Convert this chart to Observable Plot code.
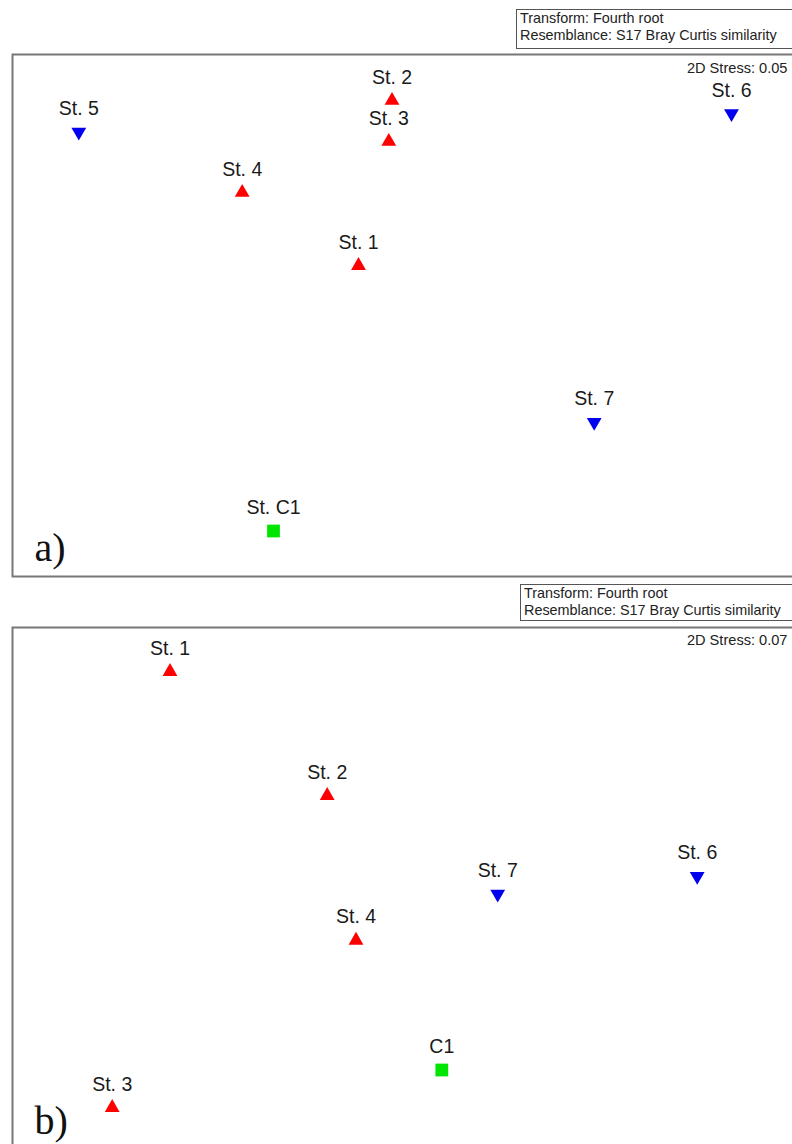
<!DOCTYPE html>
<html>
<head>
<meta charset="utf-8">
<script src="https://cdn.jsdelivr.net/npm/d3@7"></script>
<script src="https://cdn.jsdelivr.net/npm/@observablehq/plot@0.6"></script>
<style>
  html, body { margin: 0; padding: 0; background: #fff; overflow: hidden; }
  #page { position: relative; width: 800px; height: 1144px; overflow: hidden; }
  .panel { position: absolute; left: 0; }
  .legend {
    position: absolute; box-sizing: border-box; border: 1px solid #555;
    font-family: Arial, "Liberation Sans", sans-serif; font-size: 14.4px; line-height: 17px;
    color: #222; padding: 0 0 0 3px; white-space: nowrap; background: #fff; width: 300px;
  }
</style>
</head>
<body>
<div id="page"></div>
<script>
// ---- Panel a) nMDS ordination (arbitrary MDS units) ----
const namesA  = ["St. 1", "St. 2", "St. 3", "St. 4", "St. 5", "St. 6", "St. 7", "St. C1"];
const groupsA = ["up", "up", "up", "up", "down", "down", "down", "ctrl"];
const xA      = [3.46, 3.795, 3.763, 2.297, 0.663, 7.19, 5.817, 2.61];
const yA      = [3.109, 4.76, 4.35, 3.84, 4.445, 4.63, 1.542, 0.455];
const stressA = "2D Stress: 0.05";
const tagA    = "a)";

// ---- Panel b) ----
const namesB  = ["St. 1", "St. 2", "St. 3", "St. 4", "St. 6", "St. 7", "C1"];
const groupsB = ["up", "up", "up", "up", "down", "down", "ctrl"];
const xB      = [1.575, 3.147, 0.997, 3.435, 6.847, 4.852, 4.293];
const yB      = [4.849, 3.609, 0.489, 2.161, 2.803, 2.625, 0.865];
const stressB = "2D Stress: 0.07";
const tagB    = "b)";

const legendLines = ["Transform: Fourth root", "Resemblance: S17 Bray Curtis similarity"];

const groupColors = {up: "#ff0000", down: "#0000ee", ctrl: "#00e600"};

const sqrt3 = Math.sqrt(3);
const triangleDown = {
  draw(context, size) {
    const y = -Math.sqrt(size / (sqrt3 * 3));
    context.moveTo(0, -y * 2);
    context.lineTo(-sqrt3 * y, y);
    context.lineTo(sqrt3 * y, y);
    context.closePath();
  }
};

const sans = 'Arial, "Liberation Sans", sans-serif';
const serif = '"Times New Roman", "Liberation Serif", serif';

function panel(names, groups, xs, ys, stress, tag, opts) {
  const data = names.map((n, i) => ({name: n, group: groups[i], x: xs[i], y: ys[i]}));
  return Plot.plot({
    width: 800,
    height: 580,
    marginTop: opts.marginTop,
    marginLeft: 12,
    marginRight: 4,
    marginBottom: 4,
    x: {domain: [0, 7.84], axis: null},
    y: {domain: [0, opts.yMax], axis: null},
    style: {background: "transparent", maxWidth: "none", fontFamily: sans, overflow: "visible"},
    marks: [
      Plot.frame({stroke: "#777", strokeWidth: 2}),
      Plot.dot(data, {filter: d => d.group === "up", x: "x", y: "y", symbol: "triangle", r: 5.5, fill: groupColors.up, stroke: "none"}),
      Plot.dot(data, {filter: d => d.group === "down", x: "x", y: "y", symbol: triangleDown, r: 5.5, fill: groupColors.down, stroke: "none"}),
      Plot.dot(data, {filter: d => d.group === "ctrl", x: "x", y: "y", symbol: "square", r: 7.2, fill: groupColors.ctrl, stroke: "none"}),
      Plot.text(data, {x: "x", y: "y", text: "name", dy: -17, lineAnchor: "bottom", fontSize: 19.5, fill: "#1a1a1a"}),
      Plot.text([stress], {text: d => d, frameAnchor: "top-right", textAnchor: "end", lineAnchor: "bottom", dx: -9, dy: opts.stressDy, fontSize: 14.6, fill: "#222"}),
      Plot.text([tag], {text: d => d, frameAnchor: "bottom-left", textAnchor: "start", lineAnchor: "bottom", dx: 22, dy: opts.tagDy, fontSize: 40, fontFamily: serif, fill: "#111"})
    ]
  });
}

const page = document.getElementById("page");

function addLegend(left, top, height) {
  const div = document.createElement("div");
  div.className = "legend";
  div.style.left = left + "px";
  div.style.top = top + "px";
  div.style.height = height + "px";
  legendLines.forEach(t => {
    const l = document.createElement("div");
    l.textContent = t;
    div.appendChild(l);
  });
  page.appendChild(div);
}

const pa = panel(namesA, groupsA, xA, yA, stressA, tagA, {marginTop: 54, yMax: 5.22, stressDy: 18.5, tagDy: -16});
pa.classList.add("panel");
pa.style.top = "0px";
pa.style.position = "absolute";
page.appendChild(pa);

const pb = panel(namesB, groupsB, xB, yB, stressB, tagB, {marginTop: 47, yMax: 5.29, stressDy: 17, tagDy: -23});
pb.classList.add("panel");
pb.style.top = "580px";
pb.style.position = "absolute";
page.appendChild(pb);

addLegend(516, 9, 40);
addLegend(520, 584, 37);
</script>
</body>
</html>
